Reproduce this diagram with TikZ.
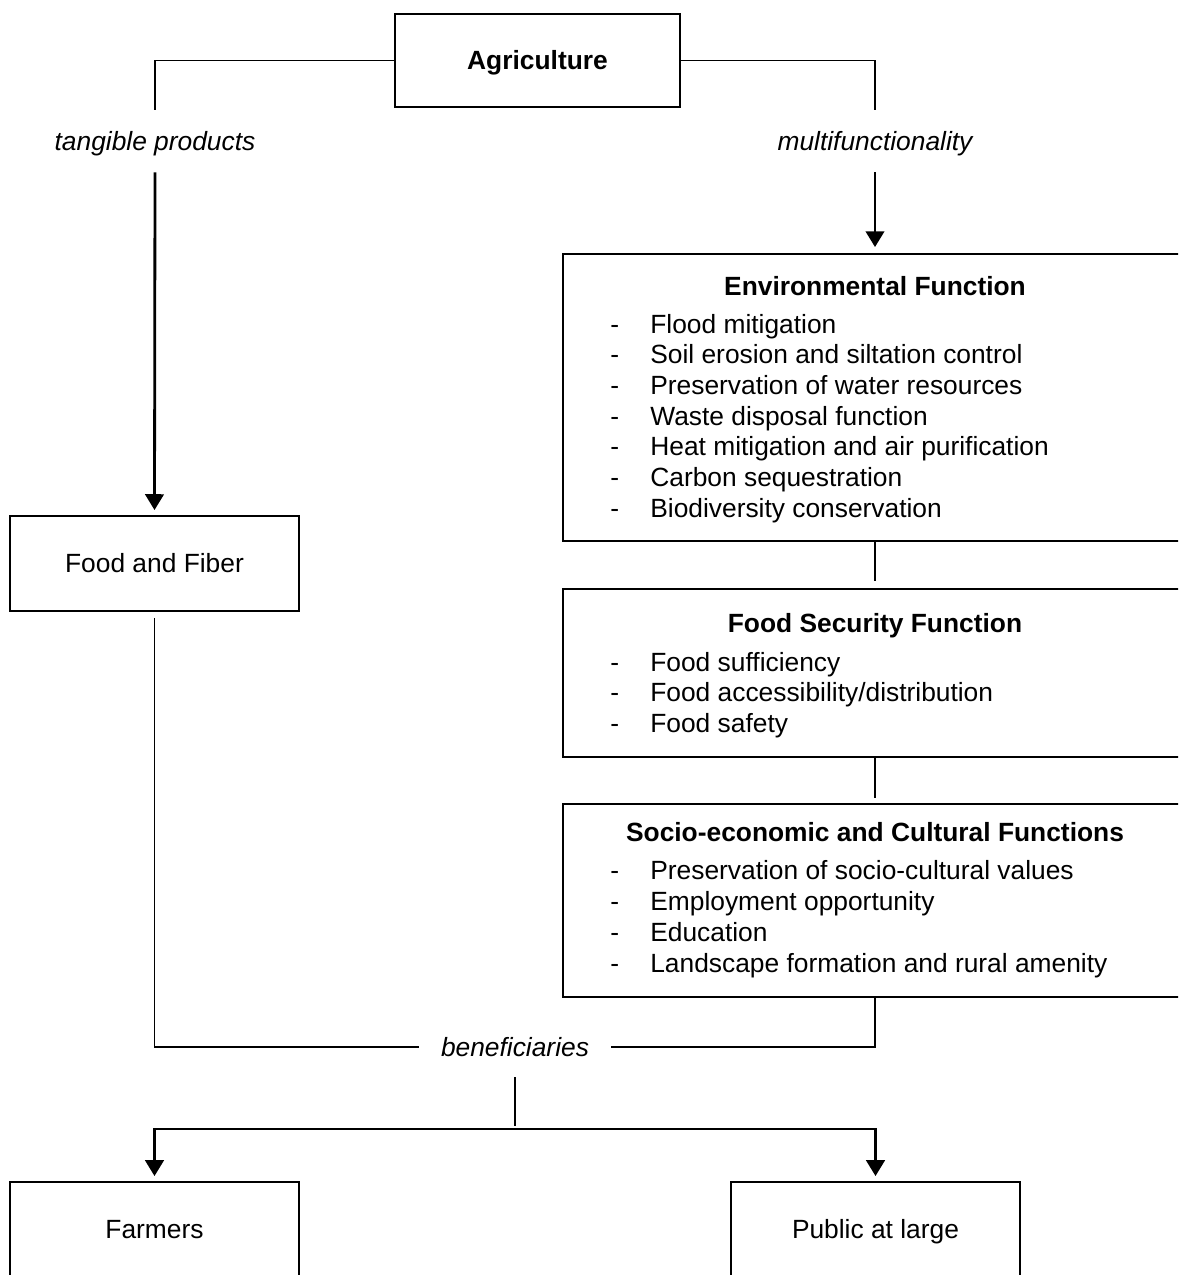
\documentclass[tikz,border=0pt]{standalone}
\usepackage{fontspec}
\setmainfont{Liberation Sans}
\usetikzlibrary{arrows.meta}
\newcommand{\dashitem}[1]{\makebox[0.8cm][l]{-}#1}
\tikzset{
    every node/.style={font=\fontsize{15}{17.5}\selectfont},
    box/.style={draw, rectangle, line width=1.1pt, inner sep=0pt, text height=10.7pt, text depth=0pt},
    tag/.style={font=\fontsize{15}{17.5}\selectfont\itshape, inner sep=0pt, text height=10.7pt, text depth=0pt},
    item/.style={anchor=base west, inner sep=0pt},
    head/.style={anchor=base, inner sep=0pt, font=\fontsize{15}{17.5}\selectfont\bfseries}
}
\tikzset{
    link/.style={line width=1.1pt},
    flow/.style={line width=1.6pt, -{Triangle[width=10.5pt,length=9pt]}}
}

\begin{document}
\begin{tikzpicture}[x=0.02cm, y=-0.02cm]
  \useasboundingbox (0,0) rectangle (1178,1275);
  \clip (0,0) rectangle (1178,1275);

  \node (agri) [box, minimum width=5.7cm, minimum height=1.86cm, font=\fontsize{15}{17.5}\selectfont\bfseries] at (537.5,60.5) {Agriculture};
  \node (tang) [tag, minimum height=1.24cm] at (155,141) {tangible products};
  \node (multi) [tag, minimum height=1.24cm] at (875,141) {multifunctionality};
  \node (food) [box, minimum width=5.78cm, minimum height=1.9cm] at (154.5,563.5) {Food and Fiber};
  \node (env) [box, minimum width=12.48cm, minimum height=5.74cm] at (875,397.5) {};
  \node (fs) [box, minimum width=12.48cm, minimum height=3.36cm] at (875,673) {};
  \node (socio) [box, minimum width=12.48cm, minimum height=3.86cm] at (875,900.5) {};
  \node (benef) [tag, minimum width=3.84cm, minimum height=1.2cm] at (515,1047) {beneficiaries};
  \node (farm) [box, minimum width=5.78cm, minimum height=1.9cm] at (154.5,1229.5) {Farmers};
  \node (pub) [box, minimum width=5.78cm, minimum height=1.9cm] at (875.5,1229.5) {Public at large};
  \coordinate (split) at (515,1129);

  % function boxes
  \node (envhead) [head] at (875,295) {Environmental Function};
  \foreach \txt [count=\i from 0] in {Flood mitigation, Soil erosion and siltation control,
      Preservation of water resources, Waste disposal function,
      Heat mitigation and air purification, Carbon sequestration, Biodiversity conservation}
    \node (envitem\i) [item] at (610,{333+30.67*\i}) {\dashitem{\txt}};

  \node (fshead) [head] at (875,632) {Food Security Function};
  \foreach \txt [count=\i from 0] in {Food sufficiency, Food accessibility/distribution, Food safety}
    \node (fsitem\i) [item] at (610,{671+30.5*\i}) {\dashitem{\txt}};

  \node (sociohead) [head] at (875,841) {Socio-economic and Cultural Functions};
  \foreach \txt [count=\i from 0] in {Preservation of socio-cultural values, Employment opportunity,
      Education, Landscape formation and rural amenity}
    \node (socioitem\i) [item] at (610,{879+31*\i}) {\dashitem{\txt}};

  % connectors
  \draw[link] (agri.west) -| (tang.north);
  \draw[flow, shorten >=1mm] (tang.south) -- (food.north);
  \draw[link] (agri.east) -| (multi.north);
  \draw[flow, shorten >=1.2mm] (multi.south) -- (env.north);
  \draw[link, shorten >=1.4mm] (env.south) -- (fs.north);
  \draw[link, shorten >=1mm] (fs.south) -- (socio.north);
  \draw[link, shorten <=1.2mm] (food.south) |- (benef.west);
  \draw[link] (socio.south) |- (benef.east);
  \draw[link, shorten >=0.06cm] (benef.south) -- (split);
  \draw[flow, shorten >=1mm] (split) -| (farm.north);
  \draw[flow, shorten >=1mm] (split) -| (pub.north);
\end{tikzpicture}
\end{document}
